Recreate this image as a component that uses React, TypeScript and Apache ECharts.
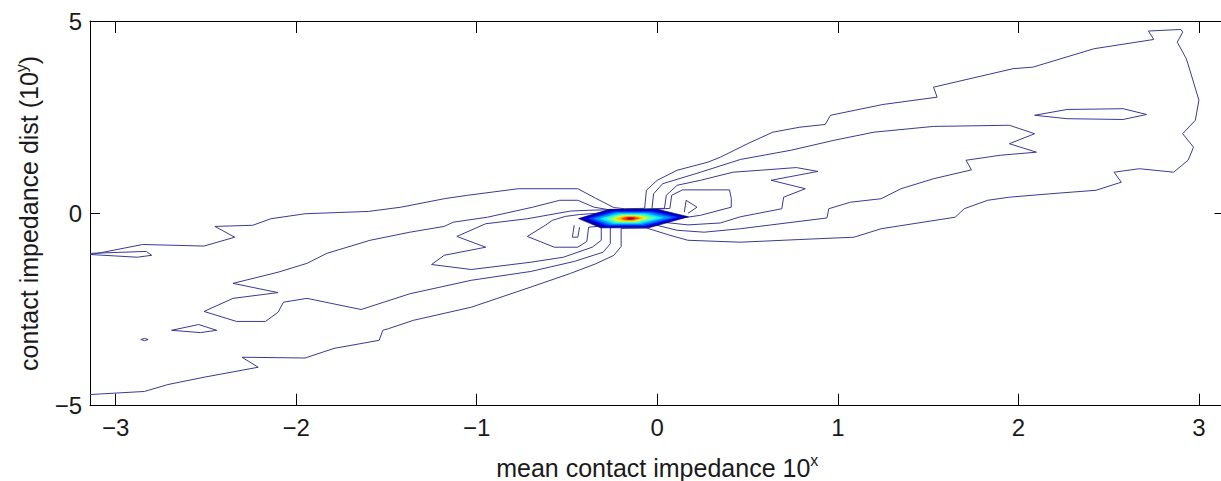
import React, { useEffect, useRef } from 'react';
import * as echarts from 'echarts';

// ---- data (axis units) ----
const xTickValues = [-3, -2, -1, 0, 1, 2, 3];
const yTickValues = [-5, 0, 5];

// outermost contour level (open at the left border)
const level1X = [-3.14,-3.10,-2.85,-2.51,-2.34,-2.45,-2.24,-2.14,-1.95,-1.60,-1.42,-1.18,-1.05,-0.77,-0.44,-0.34,-0.24,-0.18,-0.07,-0.06,0.00,0.11,0.28,0.35,0.50,0.64,0.79,0.93,0.96,1.25,1.55,1.53,1.97,2.08,2.42,2.75,2.72,2.90,2.91,2.88,2.93,2.95,3.00,2.98,2.91,2.97,2.94,2.86,2.67,2.53,2.57,2.43,2.18,1.95,1.83,1.70,1.65,1.24,1.09,0.79,0.46,0.17,0.07,-0.06,-0.20,-0.20,-0.24,-0.34,-0.48,-0.69,-1.03,-1.35,-1.49,-1.52,-1.54,-1.79,-1.95,-2.30,-2.21,-2.51,-2.71,-2.84,-3.14];
const level1Y = [-1.07,-1.04,-0.81,-0.85,-0.62,-0.34,-0.31,-0.14,-0.01,0.05,0.16,0.38,0.47,0.64,0.64,0.39,0.15,0.12,0.13,0.60,0.86,1.12,1.33,1.46,1.81,2.11,2.24,2.31,2.55,2.83,3.02,3.28,3.76,3.80,4.28,4.52,4.74,4.78,4.71,4.45,4.02,3.72,2.94,2.42,2.07,1.72,1.38,1.07,1.16,1.07,0.81,0.60,0.51,0.42,0.34,0.12,-0.10,-0.40,-0.62,-0.68,-0.75,-0.70,-0.57,-0.38,-0.39,-0.86,-1.09,-1.31,-1.56,-1.90,-2.44,-2.78,-3.00,-3.04,-3.30,-3.51,-3.76,-3.74,-4.00,-4.26,-4.45,-4.63,-4.71];

// second level
const level2X = [-0.25,-0.35,-0.44,-0.54,-0.69,-0.94,-1.13,-1.18,-1.37,-1.59,-1.83,-1.94,-2.10,-2.35,-2.10,-2.35,-2.51,-2.33,-2.17,-2.10,-2.07,-1.94,-1.64,-1.37,-1.03,-0.70,-0.46,-0.30,-0.26,-0.26,-0.02,0.11,0.26,0.46,0.94,0.95,1.07,1.24,1.35,1.53,1.74,1.71,1.90,2.10,1.95,2.09,1.95,1.53,1.20,0.98,0.74,0.46,0.24,0.03,-0.02,-0.03,-0.25];
const level2Y = [0.08,0.16,0.34,0.34,0.16,-0.10,-0.23,-0.34,-0.49,-0.70,-1.04,-1.30,-1.53,-1.82,-2.06,-2.21,-2.55,-2.81,-2.81,-2.57,-2.31,-2.21,-2.50,-2.09,-1.74,-1.51,-1.25,-1.01,-0.79,-0.36,-0.29,-0.44,-0.49,-0.40,-0.12,0.12,0.29,0.38,0.64,0.90,1.13,1.38,1.51,1.59,1.81,2.07,2.29,2.26,2.11,1.90,1.64,1.40,1.07,0.77,0.51,0.10,0.08];

// third level
const level3X = [-0.38,-0.48,-0.72,-0.95,-1.11,-0.95,-1.18,-1.25,-1.03,-0.70,-0.52,-0.36,-0.31,-0.31,0.03,0.17,0.35,0.46,0.69,0.70,0.82,0.63,0.89,0.77,0.57,0.42,0.24,0.11,0.05,0.04,-0.38];
const level3Y = [0.08,0.06,-0.14,-0.27,-0.60,-0.88,-1.09,-1.33,-1.46,-1.27,-1.14,-0.88,-0.70,-0.36,-0.23,-0.30,-0.25,-0.09,0.12,0.42,0.64,0.86,1.09,1.19,1.12,1.07,0.86,0.73,0.47,0.13,0.08];

// fourth level
const level4X = [-0.43,-0.51,-0.58,-0.62,-0.72,-0.57,-0.44,-0.39,-0.38,0.08,0.24,0.41,0.41,0.40,0.14,0.08,0.07,-0.43];
const level4Y = [-0.03,-0.08,-0.18,-0.31,-0.60,-0.88,-0.88,-0.73,-0.36,-0.16,-0.05,0.16,0.39,0.61,0.61,0.47,0.13,-0.03];

// small fifth-level hooks beside the peak
const hookLeftX = [-0.46,-0.47,-0.44,-0.43];
const hookLeftY = [-0.31,-0.62,-0.62,-0.36];
const hookRightX = [0.15,0.16,0.22,0.17];
const hookRightY = [0.03,0.34,0.16,0.00];

// isolated small contours
const loopAX = [-3.14,-2.83,-2.80,-2.88,-3.14];
const loopAY = [-1.04,-0.99,-1.09,-1.14,-1.07];
const loopBX = [-2.69,-2.54,-2.44,-2.53,-2.69];
const loopBY = [-3.04,-2.89,-3.04,-3.10,-3.04];
const loopCX = [-2.86,-2.84,-2.82,-2.84,-2.86];
const loopCY = [-3.28,-3.25,-3.28,-3.31,-3.28];
const islandX = [2.09,2.27,2.58,2.71,2.58,2.27,2.09];
const islandY = [2.55,2.70,2.72,2.57,2.44,2.46,2.55];

// central peak: nested high levels (outer -> inner)
const peakLeft = [-0.436,-0.403,-0.375,-0.348,-0.314,-0.281,-0.253,-0.226,-0.198,-0.170];
const peakRight = [0.173,0.139,0.106,0.073,0.029,-0.010,-0.049,-0.076,-0.099,-0.126];
const peakTop = [0.104,0.065,0.039,0.013,-0.013,-0.039,-0.060,-0.078,-0.096,-0.112];
const peakBottom = [-0.377,-0.338,-0.312,-0.286,-0.260,-0.234,-0.208,-0.190,-0.172,-0.156];
const peakColors = ['#00008f','#0000ff','#0050ff','#00a0ff','#10f0ff','#70ff90','#d8ff30','#ffc000','#ff4000','#b00000'];

const contourLines = [
  [level1X, level1Y],
  [level2X, level2Y],
  [level3X, level3Y],
  [level4X, level4Y],
  [hookLeftX, hookLeftY],
  [hookRightX, hookRightY],
  [loopAX, loopAY],
  [loopBX, loopBY],
  [loopCX, loopCY],
  [islandX, islandY],
];

const FONT = '"Liberation Sans", Arial, Helvetica, sans-serif';
const TEXT = '#1a1a1a';
const LINE = '#3a3a94';
const fmt = (v: number) => (v < 0 ? '\u2212' + Math.abs(v) : String(v));

export default function App() {
  const ref = useRef<HTMLDivElement>(null);
  useEffect(() => {
    if (!ref.current) return;
    const chart = echarts.init(ref.current, null, { renderer: 'svg' });
    const lineSeries = contourLines.map(([xs, ys]) => ({
      type: 'line',
      data: xs.map((x, i) => [x, ys[i]]),
      showSymbol: false,
      symbol: 'none',
      silent: true,
      z: 2,
      lineStyle: { color: LINE, width: 1 },
    }));
    const peakSeries = {
      type: 'custom',
      z: 3,
      silent: true,
      data: peakLeft.map((l, i) => [l, peakRight[i], peakTop[i], peakBottom[i]]),
      encode: { x: [0, 1], y: [2, 3] },
      renderItem: (params: any, api: any) => {
        const l = api.value(0), r = api.value(1), t = api.value(2), b = api.value(3);
        const w = r - l;
        const cy = (t + b) / 2;
        const pts = [
          [l, cy], [l + 0.28 * w, t], [l + 0.72 * w, t], [r, cy + 0.1 * (t - b)],
          [l + 0.64 * w, b], [l + 0.2 * w, b],
        ].map((p) => api.coord(p));
        const c = peakColors[params.dataIndex];
        return { type: 'polygon', shape: { points: pts }, style: { fill: c, stroke: c, lineWidth: 0.6 } };
      },
    };
    const axisLine = { show: true, onZero: false, lineStyle: { color: '#000', width: 1 } };
    const nameStyle = {
      fontSize: 25, color: TEXT, fontFamily: FONT, lineHeight: 30,
      rich: { sup: { fontSize: 16, color: TEXT, fontFamily: FONT, lineHeight: 15, verticalAlign: 'top' } },
    };
    chart.setOption({
      animation: false,
      backgroundColor: '#fff',
      grid: { left: 90, top: 21, width: 1134.5, height: 384.7, containLabel: false, outerBoundsMode: 'none' },
      xAxis: [
        {
          type: 'value', position: 'bottom', min: -Math.PI, max: Math.PI,
          axisLine,
          axisTick: { show: true, inside: true, length: 12, customValues: xTickValues, lineStyle: { color: '#000' } },
          axisLabel: { customValues: xTickValues, formatter: fmt, fontSize: 24, color: TEXT, fontFamily: FONT, margin: 10 },
          splitLine: { show: false },
          name: 'mean contact impedance 10{sup|x}',
          nameLocation: 'middle', nameGap: 47,
          nameTextStyle: nameStyle,
        },
        {
          type: 'value', position: 'top', min: -Math.PI, max: Math.PI,
          axisLine,
          axisTick: { show: true, inside: true, length: 12, customValues: xTickValues, lineStyle: { color: '#000' } },
          axisLabel: { show: false },
          splitLine: { show: false },
        },
      ],
      yAxis: [
        {
          type: 'value', position: 'left', min: -5, max: 5, interval: 5,
          axisLine,
          axisTick: { show: true, inside: true, length: 10, customValues: yTickValues, lineStyle: { color: '#000' } },
          axisLabel: { customValues: yTickValues, formatter: fmt, fontSize: 24, color: TEXT, fontFamily: FONT, margin: 8 },
          splitLine: { show: false },
          name: 'contact impedance dist (10{sup|y})',
          nameLocation: 'middle', nameGap: 45,
          nameTextStyle: nameStyle,
        },
        {
          type: 'value', position: 'right', min: -5, max: 5, interval: 5,
          axisLine,
          axisTick: { show: true, inside: true, length: 10, customValues: yTickValues, lineStyle: { color: '#000' } },
          axisLabel: { show: false },
          splitLine: { show: false },
        },
      ],
      series: [...lineSeries, peakSeries],
    });
    return () => chart.dispose();
  }, []);
  return (
    <div style={{ position: 'absolute', left: 0, top: 0, width: 1221, height: 481, overflow: 'hidden', background: '#fff' }}>
      <div ref={ref} style={{ width: 1240, height: 481 }} />
    </div>
  );
}
